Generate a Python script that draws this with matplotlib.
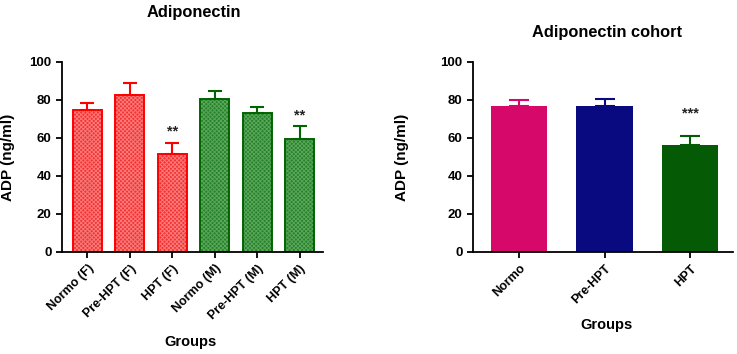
import matplotlib
matplotlib.use("Agg")
import matplotlib.pyplot as plt
import numpy as np

plt.rcParams['font.family'] = ['Liberation Sans', 'DejaVu Sans']
plt.rcParams['font.weight'] = 'bold'
plt.rcParams['hatch.linewidth'] = 0.7

# Left panel data
groups_left = ["Normo (F)", "Pre-HPT (F)", "HPT (F)", "Normo (M)", "Pre-HPT (M)", "HPT (M)"]
means_left = [74.7, 82.8, 51.6, 80.4, 73.0, 59.3]
err_left = [3.9, 6.0, 5.9, 4.2, 3.5, 7.0]
stars_left = ["", "", "**", "", "", "**"]

# Right panel data
groups_right = ["Normo", "Pre-HPT", "HPT"]
means_right = [76.8, 77.0, 56.5]
err_right = [3.2, 3.4, 4.5]
stars_right = ["", "", "***"]

yticks = [0, 20, 40, 60, 80, 100]

fig = plt.figure(figsize=(7.37, 3.54), dpi=100)

def style_axes(ax):
    for s in ['top', 'right']:
        ax.spines[s].set_visible(False)
    for s in ['left', 'bottom']:
        ax.spines[s].set_linewidth(1.3)
    ax.tick_params(axis='both', direction='out', length=4, width=1.3, labelsize=9.5)
    ax.tick_params(axis='x', labelsize=9)
    ax.set_ylim(0, 100)
    ax.set_yticks(yticks)
    for lab in ax.get_yticklabels():
        lab.set_fontweight('bold')

# Left
ax1 = fig.add_axes([62/737, 1-252/354, (323-62)/737, (252-62)/354])
x1 = np.arange(len(groups_left))
face = ['#ee3434'] * 3 + ['#25812a'] * 3
hatchc = ['#ff7878'] * 3 + ['#5aa65a'] * 3
edge = ['#ff0000'] * 3 + ['#006400'] * 3
for i in range(len(groups_left)):
    ax1.bar(x1[i], means_left[i], width=0.68, color=face[i], edgecolor=hatchc[i],
            hatch='xxxxxxxx', linewidth=0, zorder=2)
    ax1.bar(x1[i], means_left[i], width=0.68, fill=False, edgecolor=edge[i],
            linewidth=1.4, zorder=2.5)
    ax1.errorbar(x1[i], means_left[i], yerr=[[0], [err_left[i]]], fmt='none',
                 ecolor=edge[i], elinewidth=1.5, capsize=5, capthick=1.5, zorder=3)
    if stars_left[i]:
        ax1.text(x1[i], means_left[i] + err_left[i] + 2, stars_left[i],
                 ha='center', va='bottom', fontsize=10.5, fontweight='bold', color='#222222')
ax1.set_xlim(-0.6, 5.55)
ax1.set_xticks(x1)
ax1.set_xticklabels(groups_left, rotation=45, ha='right', rotation_mode='anchor',
                    fontweight='bold')
style_axes(ax1)
ax1.set_ylabel("ADP (ng/ml)", fontsize=11, fontweight='bold', va='center')
ax1.yaxis.set_label_coords(-0.207, 0.5)
ax1.set_xlabel("Groups", fontsize=10.5, fontweight='bold', va='center')
ax1.xaxis.set_label_coords(0.494, -0.474)

# Right
ax2 = fig.add_axes([473/737, 1-252/354, (733-473)/737, (252-62)/354])
x2 = np.arange(len(groups_right))
colors_r = ['#d6086a', '#0a0a80', '#055a05']
for i in range(len(groups_right)):
    ax2.bar(x2[i], means_right[i], width=0.66, color=colors_r[i], zorder=2)
    ax2.errorbar(x2[i], means_right[i], yerr=[[0], [err_right[i]]], fmt='none',
                 ecolor=colors_r[i], elinewidth=1.5, capsize=7, capthick=1.5, zorder=3)
    if stars_right[i]:
        ax2.text(x2[i], means_right[i] + err_right[i] + 8, stars_right[i],
                 ha='center', va='bottom', fontsize=10.5, fontweight='bold', color='#222222')
ax2.set_xlim(-0.54, 2.5)
ax2.set_xticks(x2)
ax2.set_xticklabels(groups_right, rotation=45, ha='right', rotation_mode='anchor',
                    fontweight='bold')
style_axes(ax2)
ax2.set_ylabel("ADP (ng/ml)", fontsize=11, fontweight='bold', va='center')
ax2.yaxis.set_label_coords(-0.273, 0.5)
ax2.set_xlabel("Groups", fontsize=10.5, fontweight='bold', va='center')
ax2.xaxis.set_label_coords(0.515, -0.384)

fig.text(194/737, 1-13/354, "Adiponectin", ha='center', va='center',
         fontsize=11.8, fontweight='bold')
fig.text(607/737, 1-33/354, "Adiponectin cohort", ha='center', va='center',
         fontsize=11.8, fontweight='bold')

fig.savefig("out.png", dpi=100)
